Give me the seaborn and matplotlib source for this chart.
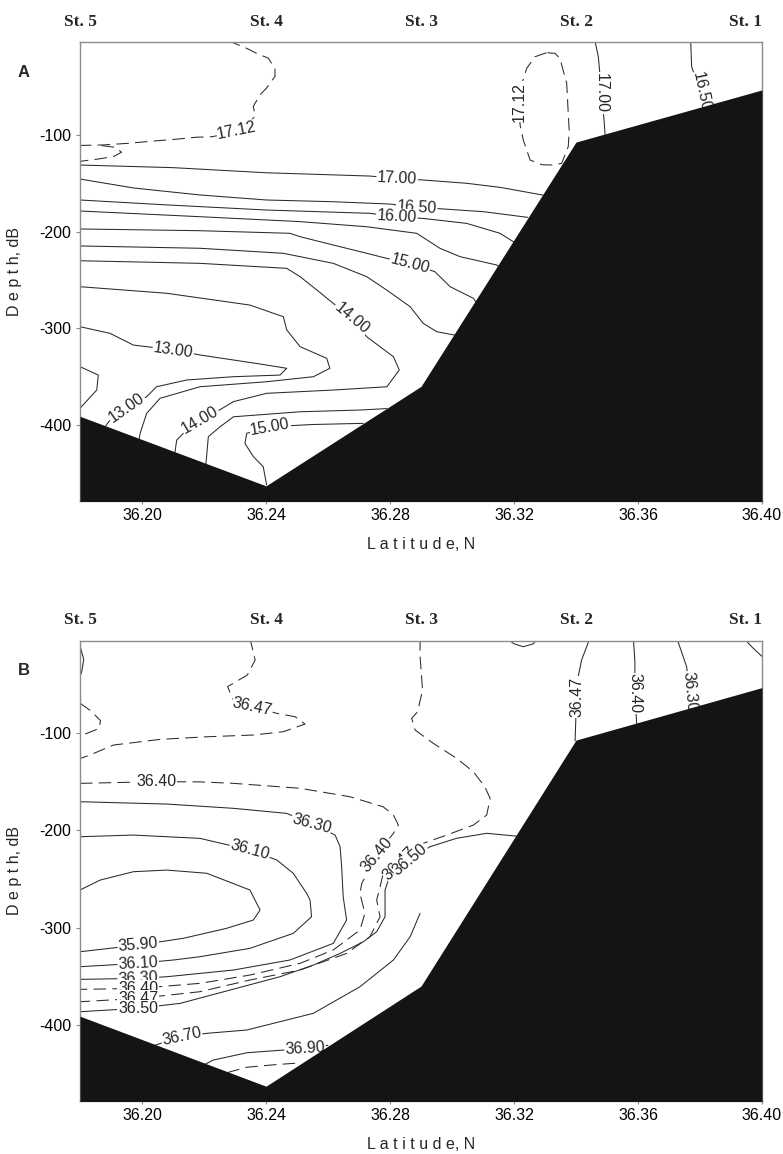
import matplotlib
matplotlib.use("Agg")
import matplotlib.pyplot as plt
import seaborn as sns

sns.set_style("white")
plt.rcParams['font.family'] = ['Liberation Sans', 'DejaVu Sans']
plt.rcParams['axes.unicode_minus'] = False

# stations along the section
station_names = ['St. 5', 'St. 4', 'St. 3', 'St. 2', 'St. 1']
station_lat = [36.18, 36.24, 36.29, 36.34, 36.40]

# bottom profile (dB)
bottom_lat = [36.18, 36.24, 36.29, 36.34, 36.40]
bottom_dep = [-391, -463, -360, -107, -53]

# ---- panel A : temperature isolines, (latitude, depth) ----
t1712_a = [(36.2278, -2), (36.2338, -10), (36.2375, -16), (36.2407, -20), (36.2429, -31),
           (36.2429, -39), (36.2402, -51), (36.2381, -58), (36.2359, -70), (36.2365, -80),
           (36.2340, -89), (36.2306, -95), (36.2265, -99), (36.2225, -101.5), (36.2176, -102),
           (36.2112, -104), (36.2036, -106), (36.1956, -108.3), (36.1875, -110), (36.18, -110.5)]
t1712_b = [(36.1870, -110.7), (36.1915, -112.5), (36.1934, -117.6), (36.1908, -122),
           (36.1860, -124.5), (36.18, -127)]
t1712_c = [(36.3305, -14.5), (36.3268, -18.6), (36.3241, -30.7), (36.3222, -50), (36.3215, -70),
           (36.3220, -90), (36.3230, -104.9), (36.3252, -125.6), (36.3290, -130.5), (36.3327, -130.8),
           (36.3354, -129), (36.3375, -111.8), (36.3378, -95), (36.3375, -77.3), (36.3370, -46.2),
           (36.3348, -20.3), (36.3332, -15.1), (36.3305, -14.5)]
t1700_a = [(36.18, -130.8), (36.21, -133.5), (36.24, -138.8), (36.2735, -142.2), (36.2823, -144.6),
           (36.2907, -146.3), (36.3047, -149.7), (36.3155, -153.9), (36.3295, -162)]
t1700_b = [(36.3461, -2), (36.3472, -18.6), (36.3478, -40), (36.3480, -56.6), (36.3486, -70),
           (36.3490, -82.4), (36.3494, -100)]
t1650_a = [(36.18, -145.3), (36.1974, -154.6), (36.2187, -161.8), (36.2402, -167), (36.2617, -168.8),
           (36.2800, -171.2), (36.2886, -174.6), (36.2972, -176.3), (36.3101, -179.1), (36.3245, -185)]
t1650_b = [(36.3770, -2), (36.3773, -29), (36.3795, -49.7), (36.3832, -70)]
t1600 = [(36.18, -167), (36.2080, -172.1), (36.2402, -177.4), (36.2735, -180.8), (36.2822, -184.3),
         (36.2907, -186.1), (36.3047, -191.2), (36.3155, -201.5), (36.3202, -211)]
t1550 = [(36.18, -178.4), (36.2187, -184.3), (36.2510, -189.4), (36.2725, -194.7), (36.2886, -201.5),
         (36.2961, -217), (36.3026, -225.7), (36.3144, -234.3), (36.3160, -238)]
t1500_a = [(36.18, -197), (36.2187, -198.8), (36.2477, -201.5), (36.2510, -205), (36.2617, -213.6),
           (36.2725, -222.2), (36.2789, -227.4), (36.2865, -232.6), (36.2945, -241.3),
           (36.2994, -256.8), (36.3069, -268.8), (36.3080, -274)]
t1500_b = [(36.2714, -398.3), (36.2550, -399.5), (36.2413, -401.8), (36.2338, -408.6),
           (36.2332, -419), (36.2359, -432.7), (36.2391, -443.1), (36.2402, -462)]
t1450_a = [(36.18, -214.6), (36.2187, -217), (36.2456, -222.2), (36.2510, -225.7), (36.2617, -232.6),
           (36.2725, -246.4), (36.2789, -260.2), (36.2865, -277.5), (36.2907, -294.7),
           (36.2951, -303.4), (36.3010, -307)]
t1450_b = [(36.2206, -441), (36.2214, -412.1), (36.2252, -401.8), (36.2295, -391.5), (36.2510, -386.3),
           (36.2703, -384.5), (36.2790, -383)]
t1400 = [(36.18, -229.9), (36.2187, -232.6), (36.2467, -237.8), (36.2510, -246.4), (36.2564, -260.2),
         (36.2676, -289.5), (36.2725, -308.6), (36.2746, -313.7), (36.2811, -329.3), (36.2830, -343),
         (36.2790, -360.4), (36.2617, -363.8), (36.2402, -367.2), (36.2295, -375.8), (36.2241, -386.2),
         (36.2187, -394.8), (36.2144, -405.2), (36.2112, -415.6), (36.2106, -429)]
t1350 = [(36.18, -256.8), (36.2080, -263.6), (36.2348, -275.8), (36.2456, -287.9), (36.2467, -301.6),
         (36.2510, -318.9), (36.2596, -331), (36.2606, -341.3), (36.2553, -350), (36.2402, -355.2),
         (36.2187, -360.4), (36.2058, -372.4), (36.2015, -388), (36.1994, -408.6), (36.1990, -416)]
t1300 = [(36.18, -298.2), (36.1897, -305.1), (36.1972, -317.2), (36.2101, -322.3), (36.2187, -327.5),
         (36.2295, -332.7), (36.2402, -337.9), (36.2467, -341.3), (36.2445, -348.3), (36.2295, -350),
         (36.2144, -353.4), (36.2047, -360.4), (36.2015, -370.7), (36.1951, -382.7), (36.1897, -394.8),
         (36.1878, -403)]
t1250 = [(36.18, -339.6), (36.1859, -348.3), (36.1854, -363.8), (36.18, -382.7)]

temp_solid = [t1700_a, t1700_b, t1650_a, t1650_b, t1600, t1550, t1500_a, t1500_b,
              t1450_a, t1450_b, t1400, t1350, t1300, t1250]
temp_dashed = [t1712_a, t1712_b, t1712_c]

# contour labels: text, latitude, depth, angle
temp_labels = [('17.12', 36.2306, -95.4, 11.6), ('17.12', 36.3217, -65.2, 90),
               ('17.00', 36.2823, -144.6, -2.5), ('17.00', 36.3480, -56.5, -90),
               ('16.50', 36.2886, -174.6, -3), ('16.00', 36.2822, -184.3, -3),
               ('16.50', 36.3805, -55.0, -78), ('15.00', 36.2865, -232.6, -15),
               ('14.00', 36.2676, -289.5, -40), ('13.00', 36.2101, -322.3, -8),
               ('13.00', 36.1951, -382.7, 35), ('14.00', 36.2187, -394.8, 30),
               ('15.00', 36.2413, -401.8, 10)]

# ---- panel B : salinity isolines, (latitude, depth) ----
s3647_a = [(36.2348, -2), (36.2365, -24.7), (36.2340, -40), (36.2276, -52.1), (36.2295, -66),
           (36.2356, -72.7), (36.2435, -79.5), (36.2494, -83), (36.2526, -90.5), (36.2456, -98.4),
           (36.2359, -101.8), (36.2209, -103.6), (36.2058, -106.3), (36.1908, -112.1),
           (36.1832, -122.4), (36.18, -126)]
s3647_b = [(36.18, -69), (36.1835, -77), (36.1866, -87), (36.1862, -95), (36.1815, -101)]
s3647_c = [(36.2897, -2), (36.2897, -21), (36.2905, -55.5), (36.2889, -77.9), (36.2870, -84.6),
           (36.2881, -96.7), (36.2940, -110.4), (36.3015, -125.8), (36.3069, -139.6), (36.3106, -155),
           (36.3123, -167), (36.3112, -184.1), (36.3069, -194.4), (36.2983, -204.7), (36.2907, -213.2),
           (36.2843, -227), (36.2778, -244), (36.2768, -258), (36.2757, -271.5), (36.2768, -288.7),
           (36.2735, -309.3), (36.2660, -326.4), (36.2510, -343.5), (36.2348, -353.8),
           (36.2187, -365.8), (36.1988, -372.7), (36.18, -376.1)]
s3640 = [(36.18, -151.5), (36.2047, -149.8), (36.2187, -150), (36.2295, -151.5), (36.2510, -156.6),
         (36.2671, -165.3), (36.2778, -175.6), (36.2811, -184.1), (36.2827, -194.4), (36.2811, -202.9),
         (36.2757, -225.2), (36.2709, -254.4), (36.2703, -264.6), (36.2719, -285.2), (36.2703, -302.4),
         (36.2617, -322.9), (36.2510, -336.6), (36.2348, -348.7), (36.2187, -357.2), (36.1988, -362.4),
         (36.18, -363.4)]
s3699 = [(36.2275, -449), (36.2338, -443.5), (36.2424, -441), (36.2510, -439)]
s_left = [(36.18, -10), (36.1812, -24), (36.1806, -36), (36.18, -42)]
s3650_a = [(36.3175, -2), (36.3200, -8), (36.3230, -11), (36.3262, -8), (36.3275, -2)]
s3647_d = [(36.3445, -2), (36.3418, -24.7), (36.3405, -45), (36.3402, -62.4), (36.3400, -80),
           (36.3397, -108)]
s3640_b = [(36.3585, -2), (36.3590, -26.4), (36.3590, -59), (36.3596, -92)]
s3630_b = [(36.3725, -2), (36.3757, -31.6), (36.3766, -57.3), (36.3780, -82)]
s_corner = [(36.3940, -2), (36.3970, -12), (36.40, -21)]
s3630 = [(36.18, -170.4), (36.2080, -172.8), (36.2295, -177.2), (36.2467, -182.4), (36.2547, -192.7),
         (36.2623, -204.7), (36.2639, -216.7), (36.2644, -237.3), (36.2649, -268.1), (36.2660, -292.1),
         (36.2617, -316.1), (36.2477, -333.2), (36.2295, -343.5), (36.2080, -350.4), (36.1988, -352.1),
         (36.18, -353.1)]
s3610 = [(36.18, -206.4), (36.1972, -204.7), (36.2187, -208.1), (36.2348, -220.1), (36.2435, -230.4),
         (36.2488, -244), (36.2531, -264.6), (36.2542, -271.5), (36.2547, -288.7), (36.2488, -305.8),
         (36.2348, -321.2), (36.2187, -329.8), (36.2101, -333.2), (36.1988, -336.6), (36.18, -340.1)]
s3590 = [(36.18, -261.2), (36.1865, -251), (36.1972, -242.4), (36.2080, -240.7), (36.2209, -244),
         (36.2348, -261.2), (36.2381, -281.8), (36.2359, -292.1), (36.2273, -300.6), (36.2133, -310.9),
         (36.1988, -317.8), (36.18, -324.7)]
s3650 = [(36.3215, -206), (36.3112, -202.9), (36.3015, -208), (36.2929, -216.7), (36.2865, -230.3),
         (36.2795, -251), (36.2784, -261.2), (36.2784, -288.7), (36.2757, -304.1), (36.2714, -314.4),
         (36.2639, -326.4), (36.2553, -338.4), (36.2445, -350.4), (36.2284, -364.1), (36.2123, -377.8),
         (36.1988, -382.8), (36.18, -386.4)]
s3670 = [(36.2897, -285.2), (36.2865, -309.3), (36.2811, -333.2), (36.2703, -360.7), (36.2553, -388),
         (36.2338, -405.2), (36.2209, -408.6), (36.2128, -412.1), (36.2040, -421)]
s3690 = [(36.2600, -421), (36.2526, -424), (36.2456, -425.8), (36.2338, -428.6), (36.2230, -436.1),
         (36.2200, -441)]

sal_solid = [s_left, s3650_a, s3647_d, s3640_b, s3630_b, s_corner, s3630, s3610, s3590,
             s3650, s3670, s3690]
sal_dashed = [s3647_a, s3647_b, s3647_c, s3640, s3699]

sal_labels = [('36.47', 36.2356, -72.7, -12), ('36.40', 36.2047, -149.8, 0),
              ('36.30', 36.2547, -192.7, -15), ('36.10', 36.2348, -220.1, -15),
              ('36.40', 36.2757, -225.2, 50), ('36.47', 36.2832, -233.8, 45),
              ('36.50', 36.2865, -230.3, 40), ('35.90', 36.1988, -317.8, 5),
              ('36.10', 36.1988, -336.6, 3), ('36.30', 36.1988, -352.1, 3),
              ('36.40', 36.1988, -362.4, 0), ('36.47', 36.1988, -372.7, 0),
              ('36.50', 36.1988, -382.8, 0), ('36.70', 36.2128, -412.1, 12),
              ('36.90', 36.2526, -424.0, 3), ('36.47', 36.3402, -62.4, 90),
              ('36.40', 36.3590, -59.0, -90), ('36.30', 36.3766, -57.3, -85)]

LINE = '#2a2a2a'


def isoline(ax, pts, dashed=False):
    lat = [p[0] for p in pts]
    dep = [p[1] for p in pts]
    ls = (0, (12, 6)) if dashed else '-'
    sns.lineplot(x=lat, y=dep, ax=ax, sort=False, estimator=None,
                 color=LINE, lw=0.75, linestyle=ls, zorder=2)


def panel(ax, solid, dashed, labels, letter, ylim):
    for pts in solid:
        isoline(ax, pts)
    for pts in dashed:
        isoline(ax, pts, dashed=True)
    for txt, lat, dep, ang in labels:
        ax.text(lat, dep, txt, rotation=ang, rotation_mode='anchor', ha='center', va='center',
                fontsize=11.5, zorder=3,
                bbox=dict(boxstyle='square,pad=0.05', fc='white', ec='none'))
    # sea floor
    ax.fill_between(bottom_lat, bottom_dep, -500, color='#141414', lw=0, zorder=4)

    ax.set_xlim(36.18, 36.40)
    ax.set_ylim(*ylim)
    ax.set_xticks([36.20, 36.24, 36.28, 36.32, 36.36, 36.40])
    ax.set_xticklabels(['36.20', '36.24', '36.28', '36.32', '36.36', '36.40'])
    ax.set_yticks([-100, -200, -300, -400])
    ax.tick_params(axis='both', labelsize=11.5, colors='black')
    ax.tick_params(axis='y', length=3, width=0.8, color='#888888', direction='out', left=True)
    ax.tick_params(axis='x', length=2, width=0.8, color='#888888', direction='out', bottom=True)
    for s in ax.spines.values():
        s.set_color('#8c8c8c')
        s.set_linewidth(1.0)
    ax.set_xlabel('L a t i t u d e, N', fontsize=11.5, labelpad=10)
    ax.set_ylabel('D e p t h, dB', fontsize=11.5, labelpad=12)

    for name, lat in zip(station_names, station_lat):
        ha = 'right' if lat >= 36.40 else 'center'
        ax.text(lat, 1.045, name, transform=ax.get_xaxis_transform(), ha=ha, va='center',
                fontsize=12.5, fontweight='bold', family=['Liberation Serif', 'DejaVu Serif'])
    ax.text(-0.083, 0.935, letter, transform=ax.transAxes, ha='center', va='center',
            fontsize=12, fontweight='bold')


fig = plt.figure(figsize=(7.83, 11.54), dpi=100)
axA = fig.add_axes([80 / 783, 1 - 500.7 / 1154, 682 / 783, 458.4 / 1154])
axB = fig.add_axes([80 / 783, 1 - 1100.7 / 1154, 682 / 783, 459.7 / 1154])

panel(axA, temp_solid, temp_dashed, temp_labels, 'A', (-478.4, -3.7))
panel(axB, sal_solid, sal_dashed, sal_labels, 'B', (-477.9, -5.1))

fig.savefig('out.png', dpi=100, facecolor='white')
